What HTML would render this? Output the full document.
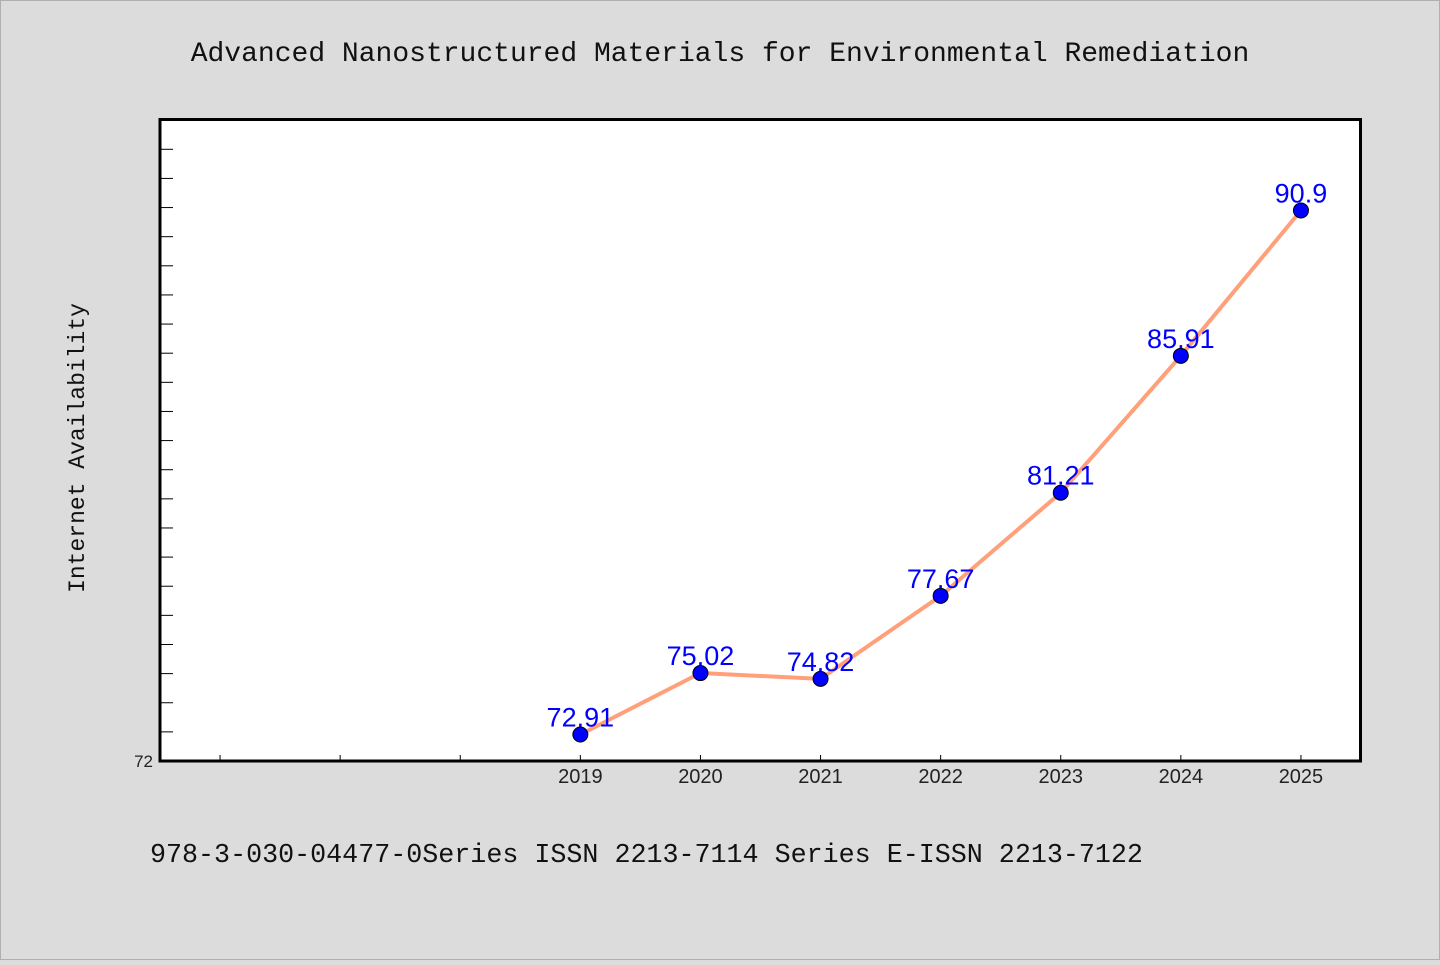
<!DOCTYPE html>
<html><head><meta charset="utf-8"><style>
html,body{margin:0;padding:0;background:#dcdcdc;}
body{width:1440px;height:960px;overflow:hidden;position:relative;}
</style></head><body>
<svg id="chart" width="1440" height="960" xmlns="http://www.w3.org/2000/svg">
<rect x="0.5" y="0.5" width="1439" height="959" fill="#dcdcdc" stroke="#b0b0b0"/>
<text x="720" y="61" text-anchor="middle" font-family="Liberation Mono, DejaVu Sans Mono, monospace" font-size="28" fill="#111">Advanced Nanostructured Materials for Environmental Remediation</text>
<rect x="160" y="119" width="1201" height="642" fill="#fff"/>
<g id="axes"></g>
<g id="series"></g>
<rect x="160" y="119.5" width="1200.5" height="641.5" fill="none" stroke="#000" stroke-width="3"/>
<text transform="translate(84,448) rotate(-90)" text-anchor="middle" font-family="Liberation Mono, DejaVu Sans Mono, monospace" font-size="23" fill="#111">Internet Availability</text>
<text x="150" y="862" font-family="Liberation Mono, DejaVu Sans Mono, monospace" font-size="26.7" fill="#111">978-3-030-04477-0Series ISSN 2213-7114 Series E-ISSN 2213-7122</text>
</svg>
<script>
const years = [2019, 2020, 2021, 2022, 2023, 2024, 2025];
const values = [72.91, 75.02, 74.82, 77.67, 81.21, 85.91, 90.9];
const valueLabels = ["72.91", "75.02", "74.82", "77.67", "81.21", "85.91", "90.9"];
const xTicks = [2016, 2017, 2018, 2019, 2020, 2021, 2022, 2023, 2024, 2025];
const xTickLabels = ["", "", "", "2019", "2020", "2021", "2022", "2023", "2024", "2025"];
const yTicks = [72,73,74,75,76,77,78,79,80,81,82,83,84,85,86,87,88,89,90,91,92,93];
const yTickLabels = ["72"];

const NS = "http://www.w3.org/2000/svg";
const X0 = 160, X1 = 1361, Y0 = 761, Y1 = 119;
const xMin = 2015.5, xMax = 2025.5, yMin = 72, yMax = 94.04;
function xs(v){ return X0 + (v - xMin) / (xMax - xMin) * (X1 - X0); }
function ys(v){ return Y0 - (v - yMin) / (yMax - yMin) * (Y0 - Y1); }
function mk(tag, attrs, parent){ const e = document.createElementNS(NS, tag); for (const k in attrs) e.setAttribute(k, attrs[k]); parent.appendChild(e); return e; }

const axes = document.getElementById('axes');
xTicks.forEach((t, i) => {
  const x = xs(t);
  const l = mk('line', {x1:x, x2:x, y1:Y0, y2:Y0-6, stroke:'#000', 'stroke-width':1}, axes);
  
  
  if (xTickLabels[i]) {
    const tx = mk('text', {x:x, y:Y0+22, 'text-anchor':'middle', 'font-family':'Liberation Sans, DejaVu Sans, sans-serif', 'font-size':20, fill:'#222'}, axes);
    tx.textContent = xTickLabels[i];
    
    
  }
});
yTicks.forEach((t, i) => {
  const y = ys(t);
  const l = mk('line', {x1:X0, x2:X0+13, y1:y, y2:y, stroke:'#000', 'stroke-width':1}, axes);
  
  
  if (yTickLabels[i]) {
    const tx = mk('text', {x:X0-7, y:y+6, 'text-anchor':'end', 'font-family':'Liberation Sans, DejaVu Sans, sans-serif', 'font-size':17, fill:'#222'}, axes);
    tx.textContent = yTickLabels[i];
    
    
  }
});

const series = document.getElementById('series');
const pts = years.map((yr, i) => xs(yr) + ',' + ys(values[i])).join(' ');
const line = mk('polyline', {points:pts, fill:'none', stroke:'#FFA07A', 'stroke-width':4, 'stroke-linejoin':'round'}, series);


years.forEach((yr, i) => {
  const cx = xs(yr), cy = ys(values[i]);
  const tx = mk('text', {x:cx, y:cy-8, 'text-anchor':'middle', 'font-family':'Liberation Sans, DejaVu Sans, sans-serif', 'font-size':27, fill:'#0000ff'}, series);
  tx.textContent = valueLabels[i];
  
  
});
years.forEach((yr, i) => {
  const c = mk('circle', {cx:xs(yr), cy:ys(values[i]), r:7.5, fill:'#0000ff', stroke:'#000', 'stroke-width':1}, series);
  
  
});
</script>
</body></html>
